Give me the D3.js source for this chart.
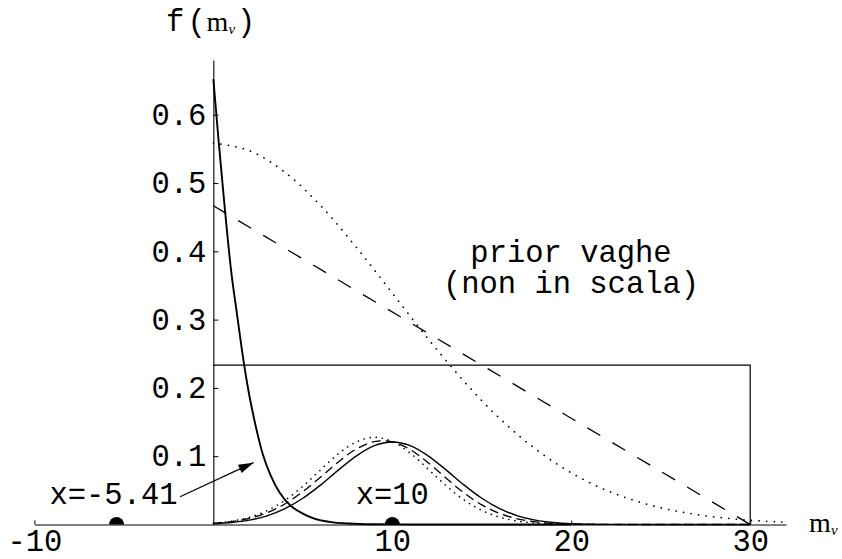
<!DOCTYPE html>
<html>
<head>
<meta charset="utf-8">
<script src="https://cdn.jsdelivr.net/npm/d3@7"></script>
<style>
  html, body { margin: 0; padding: 0; background: #fff; }
  svg { display: block; }
  text { fill: #000; }
</style>
</head>
<body>
<svg id="chart" width="842" height="559"></svg>
<script>
// ---------------- data ----------------
// posterior for x = -5.41 (steep solid curve)
const mNeg = [0, 0.3, 0.65, 1.0, 1.3, 1.6, 1.9, 2.3, 2.75, 3.2, 3.7, 4.3, 5.0, 5.6, 6.5, 7.5, 9, 11, 14, 20];
const fNeg = [0.652, 0.56, 0.46, 0.37, 0.312, 0.255, 0.205, 0.152, 0.104, 0.072, 0.047, 0.028, 0.016, 0.009, 0.0038, 0.0014, 0.0003, 0.0001, 0, 0];

// posteriors for x = 10 under the three vague priors
const mBump = [0, 1, 2, 3, 4, 5, 6, 7, 8, 9, 10, 11, 12, 13, 14, 15, 16, 17, 18, 19, 20, 22, 25, 30];
const fBumpUniform  = [0.0012, 0.0029, 0.0064, 0.0127, 0.0232, 0.0384, 0.058, 0.080, 0.1006, 0.1155, 0.1209, 0.1155, 0.1006, 0.080, 0.058, 0.0384, 0.0232, 0.0127, 0.0064, 0.0029, 0.0012, 0.0002, 0, 0];
const fBumpTriangle = [0.0018, 0.0043, 0.009, 0.0172, 0.0301, 0.048, 0.0696, 0.092, 0.1107, 0.1213, 0.1209, 0.1097, 0.0905, 0.068, 0.0464, 0.0288, 0.0162, 0.0083, 0.0038, 0.0016, 0.0006, 0.0001, 0, 0];
const fBumpHalfNorm = [0.0020, 0.0048, 0.0104, 0.0202, 0.0354, 0.056, 0.0802, 0.1037, 0.121, 0.1276, 0.1215, 0.1045, 0.0812, 0.057, 0.0361, 0.0207, 0.0107, 0.005, 0.0021, 0.0008, 0.0003, 0, 0, 0];

// vague priors (not to scale)
const mPriorHalfNorm = [0, 2, 4, 6, 8, 10, 12, 14, 16, 18, 20, 22, 24, 26, 28, 30, 32];
const fPriorHalfNorm = [0.5586, 0.5475, 0.5157, 0.4666, 0.4056, 0.3388, 0.2719, 0.2097, 0.1553, 0.1106, 0.0756, 0.0497, 0.0314, 0.019, 0.0111, 0.0062, 0.0033];
const mPriorTriangle = [0, 30];
const fPriorTriangle = [0.4667, 0];
const mPriorUniform = [0, 30, 30];
const fPriorUniform = [0.2333, 0.2333, 0];

// observed values (dots on the axis)
const observed = [-5.41, 10];
const observedLabels = ["x=-5.41", "x=10"];

// arrow from label to the x=-5.41 curve
const arrowFrom = [-1.86, 0.0407];
const arrowTo = [2.24, 0.0906];

// ticks
const xMajorTicks = [-10, 10, 20, 30];
const xMajorLabels = ["-10", "10", "20", "30"];
const xMinorTicks = [-8, -6, -4, -2, 2, 4, 6, 8, 12, 14, 16, 18, 22, 24, 26, 28, 32];
const yMajorTicks = [0.1, 0.2, 0.3, 0.4, 0.5, 0.6];
const yMajorLabels = ["0.1", "0.2", "0.3", "0.4", "0.5", "0.6"];
const yMinorTicks = [0.02, 0.04, 0.06, 0.08, 0.12, 0.14, 0.16, 0.18, 0.22, 0.24, 0.26, 0.28, 0.32, 0.34, 0.36, 0.38, 0.42, 0.44, 0.46, 0.48, 0.52, 0.54, 0.56, 0.58, 0.62, 0.64, 0.66, 0.68];

// ---------------- drawing ----------------
const svg = d3.select("#chart");
const mono = "'Liberation Mono', 'Courier New', monospace";
const serif = "'Liberation Serif', 'Times New Roman', serif";
const FS = 30.5;

const x = d3.scaleLinear().domain([-10, 32]).range([34.4, 786]);
const y = d3.scaleLinear().domain([0, 0.68]).range([524.5, 60.1]);

// axes
const gx = svg.append("g").attr("transform", `translate(0,${y(0)})`);
gx.call(d3.axisBottom(x).tickValues(xMinorTicks).tickSizeInner(-3).tickSizeOuter(0).tickFormat(""));
gx.call(d3.axisBottom(x).tickValues(xMajorTicks).tickSizeInner(-4).tickSizeOuter(0).tickPadding(4.5)
  .tickFormat((d, i) => xMajorLabels[i]));
gx.selectAll(".domain").attr("stroke", "#000").attr("stroke-width", 1.1);
gx.selectAll(".tick line").attr("stroke", "#000");
gx.selectAll("text").attr("font-family", mono).attr("font-size", FS).attr("fill", "#000");

const gy = svg.append("g").attr("transform", `translate(${x(0)},0)`);
gy.call(d3.axisLeft(y).tickValues(yMinorTicks).tickSizeInner(-3).tickSizeOuter(0).tickFormat(""));
gy.call(d3.axisLeft(y).tickValues(yMajorTicks).tickSizeInner(-5).tickSizeOuter(0).tickPadding(7)
  .tickFormat((d, i) => yMajorLabels[i]));
gy.selectAll(".domain").attr("stroke", "#000").attr("stroke-width", 1.1);
gy.selectAll(".tick line").attr("stroke", "#000");
gy.selectAll("text").attr("font-family", mono).attr("font-size", FS).attr("fill", "#000");

// helper to build a line from two arrays
function series(ms, fs) { return ms.map((m, i) => [m, fs[i]]); }
const smooth = d3.line().x(d => x(d[0])).y(d => y(d[1])).curve(d3.curveCatmullRom.alpha(0.5));
const straight = d3.line().x(d => x(d[0])).y(d => y(d[1]));

const plot = svg.append("g").attr("fill", "none").attr("stroke", "#000");

// priors
plot.append("path").attr("d", straight(series(mPriorUniform, fPriorUniform)))
  .attr("stroke-width", 1.2);
plot.append("path").attr("d", straight(series(mPriorTriangle, fPriorTriangle)))
  .attr("stroke-width", 1.3).attr("stroke-dasharray", "15,14");
plot.append("path").attr("d", smooth(series(mPriorHalfNorm, fPriorHalfNorm)))
  .attr("stroke-width", 1.7).attr("stroke-linecap", "round").attr("stroke-dasharray", "0.1,7.5");

// posteriors for x = 10
plot.append("path").attr("d", smooth(series(mBump, fBumpUniform)))
  .attr("stroke-width", 1.4);
plot.append("path").attr("d", smooth(series(mBump, fBumpTriangle)))
  .attr("stroke-width", 1.3).attr("stroke-dasharray", "9,5");
plot.append("path").attr("d", smooth(series(mBump, fBumpHalfNorm)))
  .attr("stroke-width", 1.6).attr("stroke-linecap", "round").attr("stroke-dasharray", "0.1,6");

// posterior for x = -5.41
plot.append("path").attr("d", d3.line().x(d => x(d[0])).y(d => y(d[1])).curve(d3.curveMonotoneX)(series(mNeg, fNeg)))
  .attr("stroke-width", 1.9);

// observed dots (upper half disks)
const halfDisk = d3.arc().innerRadius(0).outerRadius(7.5).startAngle(-Math.PI / 2).endAngle(Math.PI / 2);
svg.selectAll(".obs").data(observed).join("path")
  .attr("class", "obs")
  .attr("transform", d => `translate(${x(d)},${y(0)})`)
  .attr("d", halfDisk())
  .attr("fill", "#000");

// arrow
svg.append("defs").append("marker")
  .attr("id", "arrowhead").attr("markerUnits", "userSpaceOnUse")
  .attr("markerWidth", 18).attr("markerHeight", 12)
  .attr("viewBox", "0 -6 16 12").attr("refX", 15).attr("refY", 0).attr("orient", "auto")
  .append("path").attr("d", "M0,-4.5L15,0L0,4.5Z").attr("fill", "#000");
svg.append("line")
  .attr("x1", x(arrowFrom[0])).attr("y1", y(arrowFrom[1]))
  .attr("x2", x(arrowTo[0])).attr("y2", y(arrowTo[1]))
  .attr("stroke", "#000").attr("stroke-width", 1.2).attr("marker-end", "url(#arrowhead)");

// annotations
svg.append("text").attr("x", 113.5).attr("y", 504).attr("text-anchor", "middle")
  .attr("font-family", mono).attr("font-size", FS).text(observedLabels[0]);
svg.append("text").attr("x", x(observed[1])).attr("y", 504).attr("text-anchor", "middle")
  .attr("font-family", mono).attr("font-size", FS).text(observedLabels[1]);

const note = svg.append("text").attr("text-anchor", "middle")
  .attr("font-family", mono).attr("font-size", FS);
note.append("tspan").attr("x", 571).attr("y", 262).text("prior vaghe");
note.append("tspan").attr("x", 571).attr("y", 293).text("(non in scala)");

// axis titles (single text elements with positioned tspans)
const ty = svg.append("text").attr("font-family", mono).attr("font-size", FS);
ty.append("tspan").attr("x", 166).attr("y", 31).text("f");
ty.append("tspan").attr("x", 187.5).attr("y", 31).text("(");
ty.append("tspan").attr("x", 206.5).attr("y", 30.5).attr("font-family", serif).attr("font-size", 28).text("m");
ty.append("tspan").attr("x", 228.5).attr("y", 34).attr("font-family", serif).attr("font-style", "italic").attr("font-size", 15).text("ν");
ty.append("tspan").attr("x", 237).attr("y", 31).text(")");

const tx = svg.append("text").attr("font-family", serif);
tx.append("tspan").attr("x", 809).attr("y", 531.5).attr("font-size", 28).text("m");
tx.append("tspan").attr("x", 831).attr("y", 535).attr("font-style", "italic").attr("font-size", 15).text("ν");
</script>
</body>
</html>
